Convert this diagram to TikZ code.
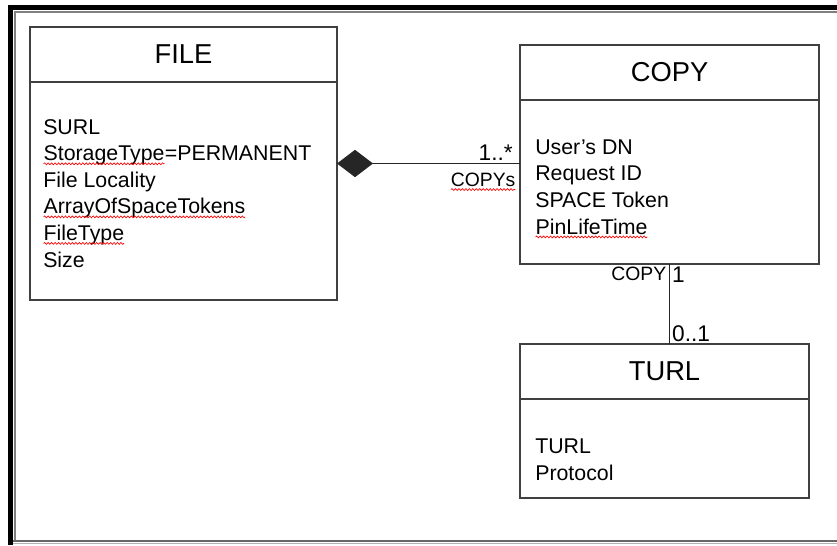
\documentclass[tikz,border=0pt]{standalone}
\usepackage{fontspec}
\setmainfont{Liberation Sans}
\usepackage{tikz}
\usetikzlibrary{positioning, arrows.meta, calc, decorations.pathmorphing}

% red wavy underline, as the spell checker shows it
\newcommand\spellmark[1]{\tikz[baseline=(w.base)]{\node[inner sep=0pt, outer sep=0pt] (w) {#1};
\draw[-, red, line width=0.5pt, decorate, decoration={snake, amplitude=0.7pt, segment length=2.6pt}] ($(w.base west)+(0,-2.2pt)$) -- ($(w.base east)+(0,-2.2pt)$);}}

\begin{document}
\begin{tikzpicture}[
x=0.75pt, y=-0.75pt,
classhead/.style={
rectangle,
draw=black!75,
line width=1pt,
outer sep=0pt,
inner sep=0pt,
minimum height=41.25pt,
font=\fontsize{20.5}{24}\selectfont
},
classbody/.style={
rectangle,
draw=black!75,
line width=1pt,
outer sep=0pt,
inner sep=0pt
},
attrs/.style={
align=left,
inner sep=0pt,
font=\fontsize{16}{19.9}\selectfont
},
assoc/.style={
draw=black!85,
line width=1pt
},
mult/.style={
inner sep=2pt,
font=\fontsize{17}{20}\selectfont
},
role/.style={
inner sep=2pt,
font=\fontsize{14.5}{17}\selectfont
}
]
\useasboundingbox (0,0) rectangle (837,545);

% frame
\draw[black, line width=3.5pt] (10.5,545) -- (10.5,7.5) -- (837,7.5);
\draw[black!50, line width=1.5pt] (14.7,541) -- (14.7,12.2) -- (837,12.2);
\draw[black!60, line width=1.5pt] (13,541) -- (837,541);
\draw[black!30, line width=1.2pt] (13,543.5) -- (837,543.5);

% FILE (base of the attribute node is its last line)
\node[classhead, minimum width=230.25pt, anchor=north west] (filehead) at (30,27) {FILE};
\node[classbody, minimum width=230.25pt, minimum height=163.5pt, below=0pt of filehead] (filebody) {};
\node[attrs, anchor=base west] (fileattrs) at ($(filebody.north west)+(13,185)$)
{SURL\\ \spellmark{StorageType}=PERMANENT\\ File Locality\\ \spellmark{ArrayOfSpaceTokens}\\ \spellmark{FileType}\\ Size};

% COPY
\node[classhead, minimum width=224.25pt, anchor=north west] (copyhead) at (520,45) {\raisebox{-3pt}{COPY}};
\node[classbody, minimum width=224.25pt, minimum height=123pt, below=0pt of copyhead] (copybody) {};
\node[attrs, anchor=base west] (copyattrs) at ($(copybody.north west)+(15,134)$)
{User's DN\\ Request ID\\ SPACE Token\\ \spellmark{PinLifeTime}};

% TURL
\node[classhead, minimum width=216.75pt, anchor=north west] (turlhead) at (520,344) {\raisebox{-3pt}{TURL}};
\node[classbody, minimum width=216.75pt, minimum height=74.25pt, below=0pt of turlhead] (turlbody) {};
\node[attrs, anchor=base west] (turlattrs) at ($(turlbody.north west)+(15,81)$)
{TURL\\ Protocol};

% associations
\coordinate (fileside) at ($(filehead.north east)!0.5!(filebody.south east)$);
\draw[assoc, {Diamond[length=27pt,width=20.5pt]}-] (fileside) -- (fileside -| copybody.west)
node[mult, pos=1, above left, xshift=-3pt] {1..*}
node[role, pos=1, below left, xshift=-1pt, yshift=-5pt] {\spellmark{COPYs}};

\draw[assoc] (copybody.south) -- (copybody.south |- turlhead.north)
node[role, pos=0, below left] {COPY}
node[mult, pos=0, below right, inner sep=1.5pt] {1}
node[mult, pos=1, above right, inner sep=1.5pt] {0..1};

\end{tikzpicture}
\end{document}
